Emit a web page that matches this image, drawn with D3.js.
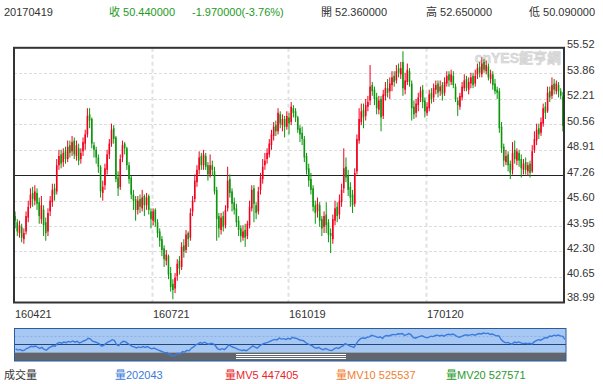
<!DOCTYPE html>
<html>
<head>
<meta charset="utf-8">
<script src="https://cdn.jsdelivr.net/npm/d3@7"></script>
<style>
body{margin:0;background:#fff;}
text{font-family:"Liberation Sans",Arial,"Noto Sans CJK TC",sans-serif;}
</style>
</head>
<body>
<svg id="chart" width="603" height="384"></svg>
<script>
// daily candles 160421 .. 170419
var opens = [
44.6,44.2,43.5,43.9,43.1,43.6,44.5,45.3,46.1,45.6,
46.1,45.5,44.4,45.0,44.2,43.6,44.9,45.5,46.4,46.2,
47.9,48.6,48.1,48.8,48.3,49.2,48.8,49.5,48.5,49.0,
48.3,48.8,49.3,49.9,51.2,50.9,49.2,48.9,48.4,47.8,
46.1,46.6,47.6,48.6,49.3,50.3,49.7,47.1,46.5,48.4,
49.3,49.0,47.9,47.1,46.0,45.7,45.0,45.7,45.1,45.9,
45.3,45.9,44.9,44.3,45.0,44.2,43.6,43.1,42.5,41.7,
42.0,40.9,40.2,39.9,40.7,41.7,41.3,42.7,42.4,43.5,
43.2,44.9,45.7,46.8,47.6,48.5,47.9,48.5,47.9,47.3,
47.9,47.5,46.3,44.6,43.7,44.6,44.0,45.1,47.0,46.2,
45.5,45.1,44.3,43.8,43.2,43.7,43.3,44.0,45.1,46.4,
45.3,44.9,46.3,47.0,47.9,48.3,48.6,49.2,49.8,50.5,
50.1,51.2,50.5,50.9,50.4,51.0,50.7,51.6,51.4,51.0,
50.3,50.0,49.6,48.5,47.7,47.0,46.4,45.3,44.9,45.3,
44.4,43.9,44.7,44.2,43.5,43.1,44.3,45.2,44.7,45.5,
46.4,47.8,47.2,46.5,46.0,45.4,47.5,49.5,50.7,51.5,
51.1,51.7,52.1,53.1,52.8,52.3,51.5,52.2,51.1,52.4,
52.9,52.7,53.1,53.7,53.4,54.2,53.8,54.6,52.8,53.3,
54.0,53.2,51.7,51.3,51.8,52.3,52.8,52.1,51.3,51.6,
52.6,52.3,52.8,53.2,52.7,53.1,52.6,53.2,53.8,53.3,
53.7,53.0,52.1,51.7,52.3,52.9,53.5,52.8,53.2,53.7,
53.2,53.8,54.3,53.8,54.6,54.0,54.3,53.5,53.8,53.2,
52.8,52.7,50.4,49.1,48.1,48.6,48.0,47.6,48.9,48.2,
48.7,48.3,47.6,48.1,47.5,48.0,47.5,48.9,49.5,50.3,
50.0,50.6,51.7,51.4,52.7,52.4,53.2,52.7,53.1,52.7,52.36
];
var highs = [
44.9,44.4,44.3,44.1,43.8,44.9,45.6,46.4,46.5,46.6,
46.4,45.8,45.9,45.3,44.5,45.1,45.9,46.7,46.7,48.3,
48.9,48.9,49.0,49.1,49.5,49.5,49.8,49.7,49.5,49.3,
49.0,49.7,50.2,51.6,51.6,51.0,49.4,49.1,48.6,47.9,
46.9,48.0,48.9,49.6,50.6,50.5,49.8,47.5,48.6,49.5,
49.4,49.1,48.1,47.2,46.3,45.9,45.9,46.0,46.3,46.0,
46.1,46.0,45.1,45.1,45.1,44.4,43.8,43.3,42.7,42.4,
42.1,41.3,40.5,40.9,41.8,42.0,42.9,43.1,43.7,43.6,
45.1,45.9,47.3,47.9,48.8,48.7,48.9,48.7,48.1,48.6,
48.2,47.8,46.5,44.8,44.8,44.9,45.3,47.8,47.3,46.4,
45.8,45.4,44.6,44.0,44.0,44.1,44.3,45.6,46.6,46.6,
45.5,46.5,47.4,48.3,48.7,49.0,49.6,50.2,50.7,50.8,
51.6,51.4,51.2,51.1,51.4,51.3,52.0,51.8,51.6,51.1,
50.5,50.4,49.8,48.7,48.0,47.4,46.6,45.6,45.8,45.5,
44.6,44.9,45.5,44.4,43.8,44.7,45.6,45.5,46.0,46.7,
49.0,48.4,47.6,46.8,46.3,47.7,49.9,51.6,51.9,51.9,
52.2,52.4,54.4,53.3,53.0,52.6,52.4,52.4,52.8,53.3,
53.5,53.6,54.0,54.0,54.4,54.5,54.6,55.3,53.9,54.5,
54.2,53.4,52.1,52.2,52.6,53.0,53.1,52.3,52.0,52.8,
52.9,53.2,53.4,53.4,53.4,53.3,53.6,54.0,54.0,54.1,
54.0,53.2,52.3,52.6,53.3,53.8,53.7,53.6,53.9,53.9,
54.1,54.5,54.6,54.9,54.8,54.7,54.5,54.1,54.0,53.5,
53.0,52.9,50.7,49.3,48.9,48.8,48.2,49.4,49.5,49.0,
48.9,48.6,48.3,48.4,48.1,48.2,49.2,50.1,50.6,50.6,
51.0,51.9,52.0,53.0,53.0,53.6,53.5,53.4,53.3,52.9,52.65
];
var lows = [
43.8,43.3,43.2,42.9,42.8,43.4,44.2,45.1,45.2,45.3,
45.0,44.1,44.1,43.3,43.0,43.3,44.6,45.2,45.6,46.0,
47.6,47.7,47.8,48.0,48.1,48.4,48.5,48.3,48.2,47.9,
48.0,48.5,48.9,49.7,50.3,49.0,48.4,48.0,47.4,45.8,
45.6,46.3,47.3,48.3,49.1,49.3,46.8,45.9,46.3,48.1,
48.6,47.6,46.7,45.7,45.0,44.3,44.7,44.8,44.9,44.6,
45.0,44.7,43.8,44.0,43.9,43.2,42.6,42.0,41.3,41.4,
40.5,39.7,39.2,39.6,40.4,40.8,41.1,41.9,42.2,42.6,
43.0,44.6,45.5,46.5,47.3,47.6,47.6,47.6,46.9,47.1,
47.2,46.0,43.0,43.2,43.4,43.6,43.8,44.9,45.8,44.9,
44.7,43.9,43.3,42.9,43.0,42.6,43.1,43.8,44.9,44.2,
44.4,44.7,46.0,46.7,47.6,48.0,48.4,48.9,49.5,49.8,
49.9,50.3,50.1,49.7,50.2,49.9,50.5,51.0,50.7,50.0,
49.4,49.2,48.1,47.3,46.5,46.0,44.9,44.1,44.5,43.9,
43.3,43.5,43.5,42.9,42.2,42.8,44.0,44.2,44.4,45.2,
46.1,46.8,45.9,45.2,44.8,45.2,47.3,49.3,50.5,50.3,
50.8,51.4,51.8,52.4,51.8,51.2,51.2,50.1,50.9,52.1,
52.3,52.2,52.7,53.0,53.2,53.6,53.5,52.4,52.5,53.1,
53.0,50.8,50.9,51.0,51.4,52.0,51.6,51.0,51.1,51.4,
51.9,52.0,52.5,52.3,52.4,52.1,52.4,53.0,53.0,53.1,
52.9,52.0,51.1,51.5,52.1,52.7,52.7,52.5,52.9,52.9,
53.0,53.5,53.6,53.6,53.9,53.8,53.4,53.2,52.8,52.5,
52.2,50.0,48.7,47.8,47.9,47.5,47.0,47.3,48.0,47.9,
47.8,47.1,47.3,47.3,47.2,47.1,47.4,48.7,49.2,49.6,
49.8,50.4,50.9,51.3,52.0,52.2,52.5,52.5,52.3,52.2,50.09
];
var closes = [
44.3,43.6,44.0,43.2,43.5,44.6,45.2,46.0,45.7,46.2,
45.4,44.6,45.3,44.0,43.5,44.8,45.6,46.3,46.0,47.9,
48.5,48.0,48.7,48.3,49.1,48.7,49.4,48.6,49.2,48.2,
48.7,49.4,49.9,51.1,50.8,49.3,48.9,48.4,47.8,46.2,
46.5,47.7,48.6,49.3,50.2,49.6,47.0,46.4,48.3,49.2,
49.0,47.9,47.0,46.0,45.6,45.0,45.6,45.2,45.8,45.3,
45.8,45.0,44.4,44.9,44.2,43.5,43.0,42.4,41.8,42.1,
40.8,40.0,39.8,40.6,41.5,41.2,42.6,42.3,43.4,43.1,
44.8,45.6,46.9,47.6,48.4,47.9,48.6,47.8,47.3,47.9,
47.6,46.2,44.4,43.8,44.5,43.9,45.0,46.9,46.1,45.4,
45.0,44.2,43.7,43.3,43.6,43.2,44.1,45.2,46.3,45.4,
44.8,46.2,47.1,47.8,48.2,48.7,49.3,49.9,50.4,50.1,
51.3,50.6,50.9,50.4,51.1,50.6,51.7,51.3,51.0,50.2,
49.9,49.6,48.4,47.6,46.9,46.3,45.2,44.8,45.4,44.3,
43.8,44.6,44.0,43.4,43.3,44.4,45.1,44.6,45.6,46.3,
47.7,47.1,46.3,45.8,45.3,47.4,49.6,50.9,51.4,51.0,
51.8,52.0,53.0,52.7,52.2,51.6,52.1,51.0,52.5,52.9,
52.6,53.2,53.6,53.3,54.0,53.9,54.2,52.9,53.4,54.1,
53.3,51.6,51.2,51.9,52.3,52.7,52.0,51.4,51.7,52.5,
52.2,52.9,53.1,52.6,53.0,52.5,53.3,53.7,53.4,53.8,
53.1,52.2,51.8,52.4,53.0,53.4,52.9,53.3,53.6,53.1,
53.7,54.2,53.9,54.5,54.1,54.4,53.6,53.8,53.1,52.7,
52.6,50.3,49.0,48.2,48.5,47.9,47.4,48.7,48.3,48.8,
48.2,47.7,48.0,47.6,47.9,47.4,48.8,49.6,50.2,49.9,
50.7,51.6,51.3,52.6,52.3,53.1,52.8,53.2,52.7,52.41,50.44
];
var tickIdx = [0, 63, 125, 188];
var tickLabels = ["160421", "160721", "161019", "170120"];
var yTicks = [38.99, 40.65, 42.30, 43.95, 45.60, 47.26, 48.91, 50.56, 52.21, 53.86, 55.52];
var baseLine = 47.26;

var svg = d3.select("#chart");
var up = "#f2001e", down = "#0c960c";
var pLeft = 14, pRight = 564, pTop = 47.8, pBottom = 302.5;

var x = d3.scaleBand().domain(d3.range(closes.length)).range([pLeft, pRight]);
var y = d3.scaleLinear().domain([38.99, 55.52]).range([pBottom, pTop]);

//header line
var header = svg.append("g").style("font-size", "11px");
header.append("text").attr("x", 4).attr("y", 16).attr("fill", "#333").text("20170419");
header.append("text").attr("x", 109).attr("y", 16).attr("fill", "#1e9a1e").text("收 50.440000");
header.append("text").attr("x", 192).attr("y", 16).attr("fill", "#1e9a1e").text("-1.970000(-3.76%)");
header.append("text").attr("x", 321).attr("y", 16).attr("fill", "#333").text("開 52.360000");
header.append("text").attr("x", 426).attr("y", 16).attr("fill", "#333").text("高 52.650000");
header.append("text").attr("x", 529).attr("y", 16).attr("fill", "#333").text("低 50.090000");

var g = svg.append("g");

//grid
g.selectAll(".hgrid").data(yTicks.slice(1, -1)).enter().append("line")
  .attr("class", "hgrid")
  .attr("x1", pLeft).attr("x2", pRight)
  .attr("y1", function(d) { return Math.round(y(d)) + 0.5; })
  .attr("y2", function(d) { return Math.round(y(d)) + 0.5; })
  .attr("stroke", "#dcdcdc").attr("stroke-dasharray", "3,2");

g.selectAll(".vgrid").data(tickIdx.slice(1)).enter().append("line")
  .attr("class", "vgrid")
  .attr("x1", function(d) { return Math.round(x(d)) + 0.5; })
  .attr("x2", function(d) { return Math.round(x(d)) + 0.5; })
  .attr("y1", pTop).attr("y2", pBottom)
  .attr("stroke", "#e2e2e2").attr("stroke-width", 2).attr("stroke-dasharray", "4,3");

//watermark
g.append("text").attr("x", 561).attr("y", 63).attr("text-anchor", "end")
  .style("font-size", "14px").style("font-weight", "bold")
  .attr("fill", "#dedede").attr("stroke", "#cfcfcf").attr("stroke-width", 0.5)
  .text("cnYES鉅亨網");

//base line
g.append("line").attr("x1", pLeft).attr("x2", pRight)
  .attr("y1", Math.round(y(baseLine)) + 0.5).attr("y2", Math.round(y(baseLine)) + 0.5)
  .attr("stroke", "#222").attr("stroke-width", 1);

//candles
var bw = x.bandwidth() * 0.72;
var candles = g.selectAll(".candle").data(closes).enter().append("g").attr("class", "candle");
candles.append("rect")
  .attr("x", function(d, i) { return x(i) + x.bandwidth() / 2 - 0.5; })
  .attr("width", 1)
  .attr("y", function(d, i) { return y(highs[i]); })
  .attr("height", function(d, i) { return y(lows[i]) - y(highs[i]); })
  .attr("fill", function(d, i) { return d >= opens[i] ? up : down; });
candles.append("rect")
  .attr("x", function(d, i) { return x(i) + (x.bandwidth() - bw) / 2; })
  .attr("width", bw)
  .attr("y", function(d, i) { return y(Math.max(d, opens[i])); })
  .attr("height", function(d, i) { return Math.max(1, Math.abs(y(d) - y(opens[i]))); })
  .attr("fill", function(d, i) { return d >= opens[i] ? up : down; });

//frame
g.append("rect").attr("x", pLeft).attr("y", pTop).attr("width", pRight - pLeft).attr("height", pBottom - pTop)
  .attr("fill", "none").attr("stroke", "#333").attr("stroke-width", 2);

//y labels
g.selectAll(".ylab").data(yTicks).enter().append("text")
  .attr("class", "ylab")
  .attr("x", pRight + 3)
  .attr("y", function(d) { return Math.min(y(d) + 0.5, 300.5); })
  .style("font-size", "11px").attr("fill", "#333")
  .text(function(d) { return d.toFixed(2); });

//date labels
g.selectAll(".xlab").data(tickIdx).enter().append("text")
  .attr("class", "xlab")
  .attr("x", function(d, i) { return i == 0 ? pLeft + 1 : Math.round(x(d)) + 1; })
  .attr("y", 318)
  .style("font-size", "11px").attr("fill", "#333")
  .text(function(d, i) { return tickLabels[i]; });

//navigator
var nTop = 328.5, nMid = 352.5, nBot = 361, nLeft = 14.5, nRight = 566;
var nx = d3.scaleBand().domain(d3.range(closes.length)).range([nLeft, nRight]);
var ny = d3.scaleLinear().domain(d3.extent(closes)).range([356, 333]);
var nav = svg.append("g");
nav.append("rect").attr("x", nLeft).attr("y", nTop).attr("width", nRight - nLeft).attr("height", nMid - nTop)
  .attr("fill", "#a7c8f3");
nav.append("rect").attr("x", nLeft).attr("y", nMid).attr("width", nRight - nLeft).attr("height", nBot - nMid)
  .attr("fill", "#5f6670");
nav.append("line").attr("x1", nLeft).attr("x2", nRight).attr("y1", 336.5).attr("y2", 336.5)
  .attr("stroke", "#8fb0de").attr("stroke-dasharray", "2,2");
nav.append("line").attr("x1", nLeft).attr("x2", nRight).attr("y1", 344.5).attr("y2", 344.5)
  .attr("stroke", "#24467a");
[354.5, 356.5, 358.5].forEach(function(yy) {
  nav.append("line").attr("x1", 236).attr("x2", 346).attr("y1", yy).attr("y2", yy)
    .attr("stroke", "#fff").attr("stroke-width", 1);
});
nav.append("path").datum(closes)
  .attr("fill", "none").attr("stroke", "#3b7be0").attr("stroke-width", 1.4)
  .attr("d", d3.line().x(function(d, i) { return nx(i) + nx.bandwidth() / 2; }).y(function(d) { return ny(d); }));
nav.append("rect").attr("x", nLeft).attr("y", nTop).attr("width", nRight - nLeft).attr("height", nBot - nTop)
  .attr("fill", "none").attr("stroke", "#2c5c9c").attr("stroke-width", 1);

//volume legend
var legend = svg.append("g").style("font-size", "11px");
legend.append("text").attr("x", 4).attr("y", 379).attr("fill", "#333").text("成交量");
legend.append("text").attr("x", 115).attr("y", 379).attr("fill", "#3a7ad8").text("量202043");
legend.append("text").attr("x", 225).attr("y", 379).attr("fill", "#e8262a").text("量MV5 447405");
legend.append("text").attr("x", 336).attr("y", 379).attr("fill", "#f08030").text("量MV10 525537");
legend.append("text").attr("x", 446).attr("y", 379).attr("fill", "#2a9a2a").text("量MV20 527571");
</script>
</body>
</html>
